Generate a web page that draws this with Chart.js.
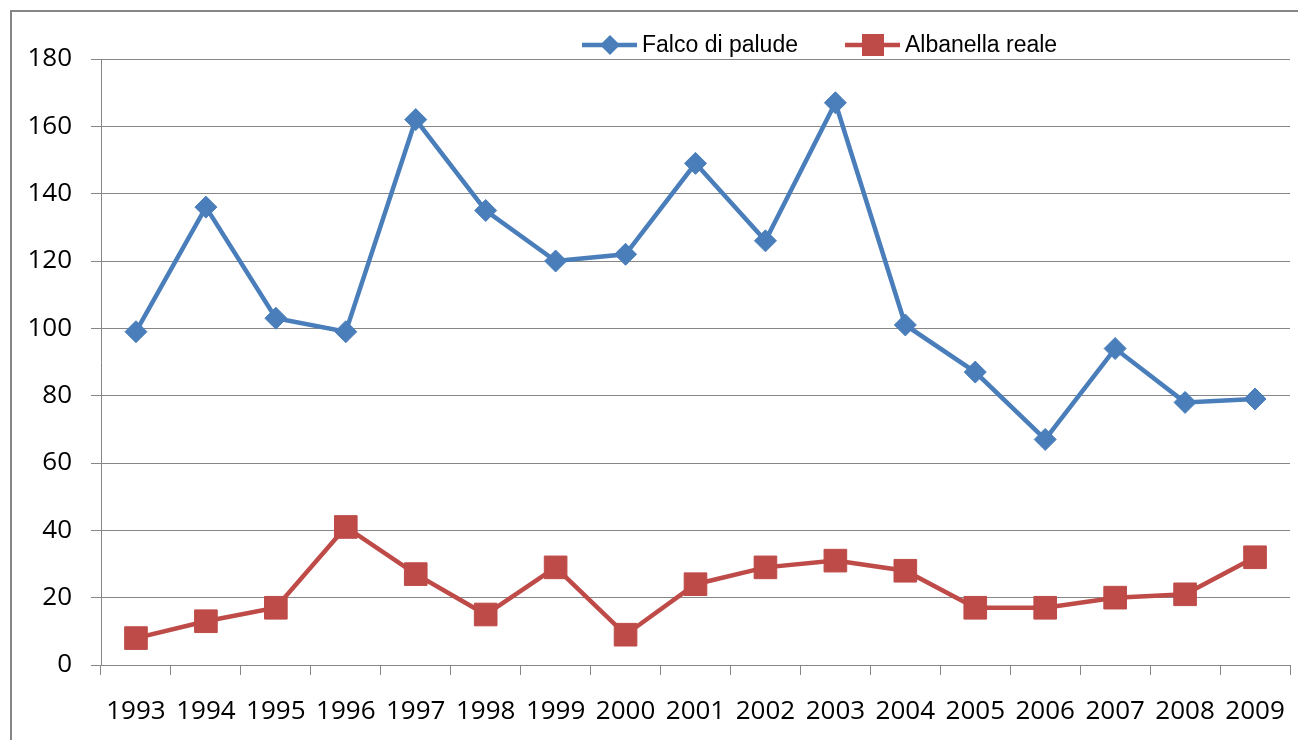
<!DOCTYPE html>
<html>
<head>
<meta charset="utf-8">
<title>Falco di palude / Albanella reale</title>
<script src="https://cdn.jsdelivr.net/npm/chart.js@4.4.1/dist/chart.umd.min.js"></script>
<style>
  html, body { margin: 0; padding: 0; background: #fff; overflow: hidden; }
  #wrap { position: relative; width: 1298px; height: 740px; }
  #frame { position: absolute; left: 10px; top: 10px; width: 1300px; height: 740px;
           border-left: 2px solid #868686; border-top: 2px solid #868686; }
  canvas { position: absolute; left: 0; top: 0; }
</style>
</head>
<body>
<div id="wrap">
  <div id="frame"></div>
  <canvas id="chart" width="1298" height="740"></canvas>
</div>
<script>
const years = ['1993', '1994', '1995', '1996', '1997', '1998', '1999', '2000', '2001',
               '2002', '2003', '2004', '2005', '2006', '2007', '2008', '2009'];
const falcoValues = [99, 136, 103, 99, 162, 135, 120, 122, 149, 126, 167, 101, 87, 67, 94, 78, 79];
const albanellaValues = [8, 13, 17, 41, 27, 15, 29, 9, 24, 29, 31, 28, 17, 17, 20, 21, 32];
const seriesNames = ['Falco di palude', 'Albanella reale'];
const yMin = 0;
const yMax = 180;
const yStep = 20;

const blue = '#4a7ebb';
const red = '#be4b48';
const gridGray = '#868686';
const yFont = { family: '"Open Sans"', size: 26 };
// tall line height pushes the year labels down without adding tick padding
const xFont = { family: '"Open Sans"', size: 26, lineHeight: 2.85 };

// legend drawn by hand: line + marker, like the spreadsheet original
const lineLegend = {
    id: 'lineLegend',
    afterDraw(chart) {
        const ctx = chart.ctx;
        const y = 45;
        const spots = [582, 845];
        ctx.save();
        chart.data.datasets.forEach((ds, i) => {
            const x0 = spots[i];
            ctx.strokeStyle = ds.borderColor;
            ctx.lineWidth = 4.5;
            ctx.beginPath();
            ctx.moveTo(x0, y);
            ctx.lineTo(x0 + 55, y);
            ctx.stroke();
            ctx.fillStyle = ds.backgroundColor;
            const cx = x0 + 28;
            if (ds.pointStyle === 'rectRot') {
                ctx.beginPath();
                ctx.moveTo(cx, y - 10);
                ctx.lineTo(cx + 10, y);
                ctx.lineTo(cx, y + 10);
                ctx.lineTo(cx - 10, y);
                ctx.closePath();
                ctx.fill();
            } else {
                ctx.fillRect(cx - 11, y - 11, 22, 22);
            }
            ctx.fillStyle = '#000';
            ctx.font = '23px "Liberation Sans"';
            ctx.textBaseline = 'middle';
            ctx.fillText(ds.label, x0 + 60, y + 1);
        });
        ctx.restore();
    }
};

const chart = new Chart(document.getElementById('chart'), {
    type: 'line',
    data: {
        labels: years,
        datasets: [{
            label: seriesNames[0],
            data: falcoValues,
            borderColor: blue,
            backgroundColor: blue,
            borderWidth: 4.5,
            pointStyle: 'rectRot',
            pointRadius: 11,
            pointBorderWidth: 1,
            tension: 0
        }, {
            label: seriesNames[1],
            data: albanellaValues,
            borderColor: red,
            backgroundColor: red,
            borderWidth: 4.5,
            pointStyle: 'rect',
            pointRadius: 16,
            pointBorderWidth: 1,
            tension: 0
        }]
    },
    options: {
        responsive: false,
        animation: false,
        layout: { autoPadding: false, padding: { top: 59, left: 28, right: 8, bottom: 0 } },
        plugins: {
            legend: { display: false },
            tooltip: { enabled: false }
        },
        scales: {
            x: {
                offset: true,
                grid: { offset: true, drawOnChartArea: false, tickLength: 10, color: gridGray, lineWidth: 1 },
                border: { display: true, color: gridGray, width: 1 },
                ticks: { padding: 0, color: '#000', font: xFont, maxRotation: 0, autoSkip: false },
                afterFit(scale) {
                    scale.height = 75;
                }
            },
            y: {
                min: yMin,
                max: yMax,
                grid: { tickLength: 10, color: gridGray, lineWidth: 1 },
                border: { display: true, color: gridGray, width: 1 },
                ticks: { stepSize: yStep, padding: 19, color: '#000', font: yFont },
                afterFit(scale) {
                    scale.width = 73;
                }
            }
        }
    },
    plugins: [lineLegend]
});
</script>
</body>
</html>
